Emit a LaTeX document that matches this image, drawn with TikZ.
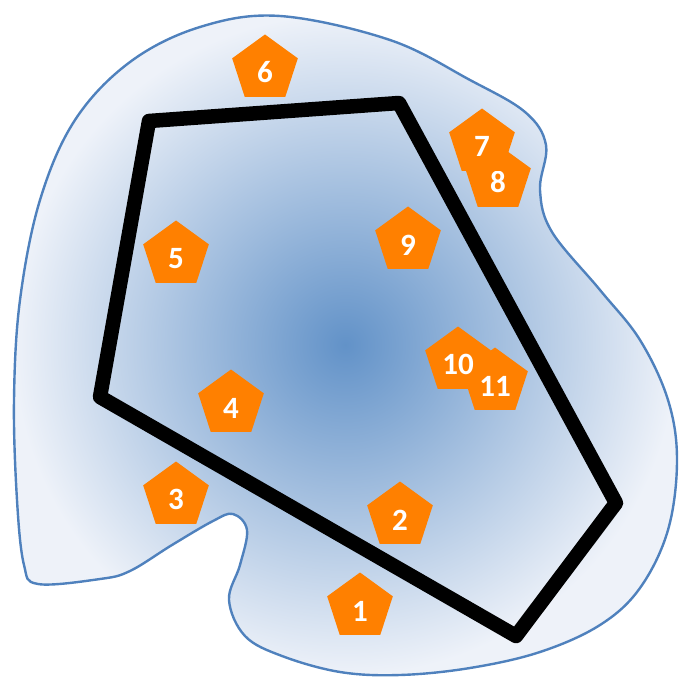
\documentclass[tikz,border=0pt]{standalone}
\usepackage{fontspec}
\setmainfont{Carlito}
\usetikzlibrary{shapes.geometric}
\definecolor{blobLine}{RGB}{79,129,189}
\definecolor{blobCore}{RGB}{98,146,200}
\definecolor{blobRim}{RGB}{238,242,249}
\definecolor{tagFill}{RGB}{255,128,0}
\tikzset{
  blob/.style={draw=blobLine, line width=2.4pt, inner color=blobCore, outer color=blobRim},
  hull/.style={draw=black, line width=14.5pt, line join=round},
  tag/.style={regular polygon, regular polygon sides=5, fill=tagFill, draw=none,
              minimum size=69pt, inner sep=0pt, text=white, text height=28pt,
              font=\bfseries\fontsize{31}{31}\selectfont},
}

\begin{document}
\begin{tikzpicture}[x=1pt, y=-1pt]
  \useasboundingbox (0,0) rectangle (680,679);
  % region
  \draw[blob] plot[smooth cycle, tension=0.6] coordinates {
    (280,16) (390,40) (470,80) (525,112) (546,145) (540,190) (552,232)
    (600,290) (640,340) (668,400) (677,460) (668,530) (640,588) (600,625)
    (540,652) (470,668) (400,675) (340,672) (282,656) (245,636) (229,600)
    (240,565) (247,530) (233,514) (213,521) (172,545) (130,571) (100,579)
    (38,584) (24,565) (17,500) (14,400) (20,300) (40,200) (75,120)
    (130,62) (200,27)};
  % hull
  \coordinate (h1) at (149,121);
  \coordinate (h2) at (399,103);
  \coordinate (h3) at (616,503);
  \coordinate (h4) at (516,636);
  \coordinate (h5) at (100,397);
  \draw[hull] (h1) -- (h2) -- (h3) -- (h4) -- (h5) -- cycle;
  % points
  \node[tag] (p1) at (360,607) {1};
  \node[tag] (p2) at (400,516) {2};
  \node[tag] (p3) at (176,496) {3};
  \node[tag] (p4) at (231,404) {4};
  \node[tag] (p5) at (176,255) {5};
  \node[tag] (p6) at (265,69) {6};
  \node[tag] (p8) at (498,179) {8};
  \node[tag] (p7) at (482,143) {7};
  \node[tag] (p9) at (408,241) {9};
  \node[tag] (p11) at (495,382) {11};
  \node[tag] (p10) at (458,361) {10};
\end{tikzpicture}
\end{document}
